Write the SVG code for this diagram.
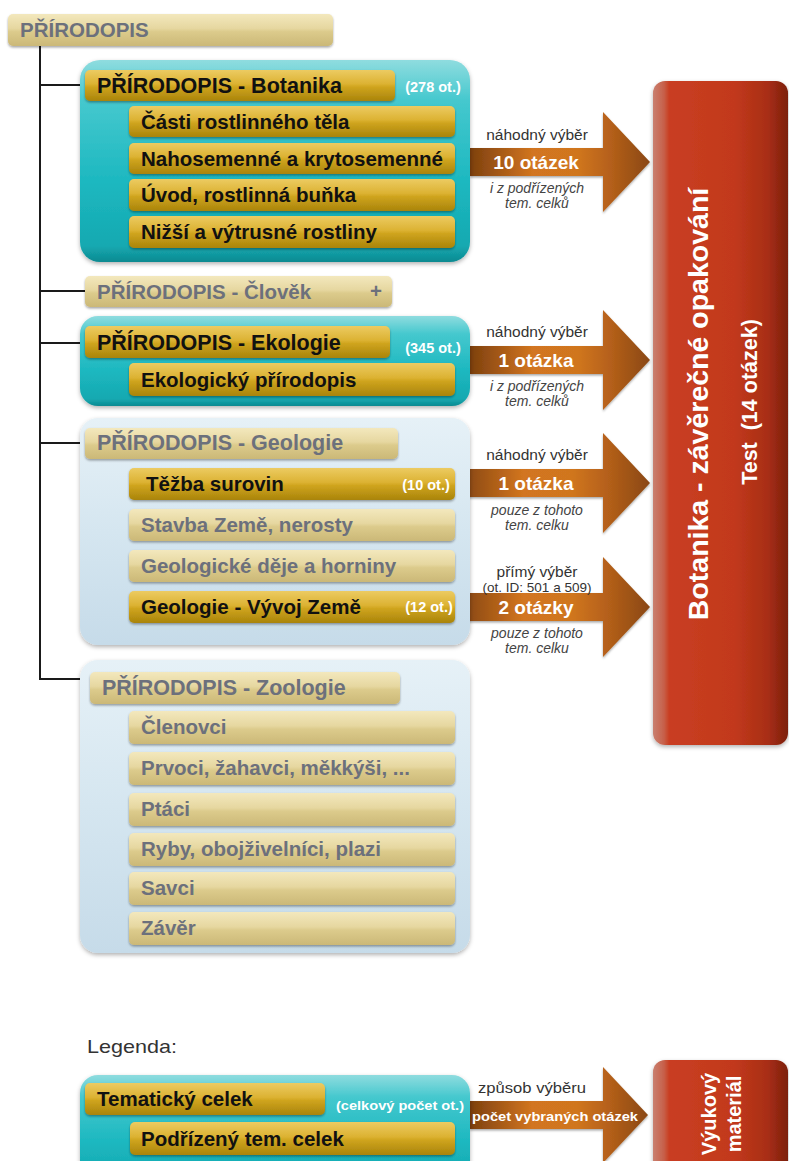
<svg xmlns="http://www.w3.org/2000/svg" width="789" height="1161" viewBox="0 0 789 1161">
<defs>
<linearGradient id="gold" x1="0" y1="0" x2="0" y2="1">
<stop offset="0" stop-color="#eccb62"/><stop offset="0.45" stop-color="#dcb232"/><stop offset="0.55" stop-color="#cfa41e"/><stop offset="1" stop-color="#a9840a"/>
</linearGradient>
<linearGradient id="pale" x1="0" y1="0" x2="0" y2="1">
<stop offset="0" stop-color="#f3e8bd"/><stop offset="0.45" stop-color="#e6d7a0"/><stop offset="0.55" stop-color="#dccb8c"/><stop offset="1" stop-color="#cbb877"/>
</linearGradient>
<linearGradient id="teal" x1="0" y1="0" x2="0" y2="1">
<stop offset="0" stop-color="#8fdcdf"/><stop offset="0.2" stop-color="#45c8ce"/><stop offset="0.6" stop-color="#1db8c0"/><stop offset="0.92" stop-color="#15a9b1"/><stop offset="1" stop-color="#0d8a91"/>
</linearGradient>
<linearGradient id="blue" x1="0" y1="0" x2="0" y2="1">
<stop offset="0" stop-color="#e6f1f7"/><stop offset="0.5" stop-color="#d5e6f0"/><stop offset="1" stop-color="#c6dbe9"/>
</linearGradient>
<linearGradient id="red" x1="0" y1="0" x2="1" y2="0">
<stop offset="0" stop-color="#c98070"/><stop offset="0.08" stop-color="#c7604a"/><stop offset="0.12" stop-color="#c93e22"/><stop offset="0.6" stop-color="#c2391c"/><stop offset="0.85" stop-color="#a82e15"/><stop offset="1" stop-color="#7c1f0d"/>
</linearGradient>
<linearGradient id="arrow" x1="0" y1="0" x2="1" y2="0">
<stop offset="0" stop-color="#7d400e"/><stop offset="0.35" stop-color="#d27520"/><stop offset="0.6" stop-color="#d0761f"/><stop offset="0.78" stop-color="#b5601a"/><stop offset="1" stop-color="#8a4812"/>
</linearGradient>
<filter id="sh" x="-10%" y="-10%" width="120%" height="130%">
<feDropShadow dx="0" dy="2" stdDeviation="2" flood-color="#000" flood-opacity="0.3"/>
</filter>
<filter id="shs" x="-5%" y="-20%" width="110%" height="150%">
<feDropShadow dx="0" dy="1.5" stdDeviation="1.2" flood-color="#000" flood-opacity="0.35"/>
</filter>
<style>
.f{font-family:"Liberation Sans",Arial,sans-serif}
.bg{fill:url(#gold);filter:url(#shs)}
.bp{fill:url(#pale);filter:url(#shs)}
.ct{fill:url(#teal);filter:url(#sh)}
.cb{fill:url(#blue);filter:url(#sh)}
.tb{font-family:"Liberation Sans",Arial,sans-serif;font-weight:bold;font-size:20.5px;fill:#111}
.tg{font-family:"Liberation Sans",Arial,sans-serif;font-weight:bold;font-size:20.5px;fill:#6c707c}
.cnt{font-family:"Liberation Sans",Arial,sans-serif;font-weight:bold;font-size:14.5px;fill:#fff;text-anchor:middle}
.al{font-family:"Liberation Sans",Arial,sans-serif;font-size:15.5px;fill:#333;text-anchor:middle}
.an{font-family:"Liberation Sans",Arial,sans-serif;font-weight:bold;font-size:19px;fill:#fff;text-anchor:middle}
.ai{font-family:"Liberation Sans",Arial,sans-serif;font-style:italic;font-size:14px;fill:#444;text-anchor:middle}
.arr{fill:url(#arrow);filter:url(#shs)}
.tree{fill:none;stroke:#1a1a1a;stroke-width:2}
</style>
</defs>
<rect width="789" height="1161" fill="#ffffff"/>

<g id="connectors">
<path class="tree" d="M40 46 V679 H84 M40 85 H86 M40 291 H86 M40 343 H86 M40 443 H86"/>
<polygon class="arr" points="470,148 603,148 603,112 650,162 603,212 603,176 470,176"/>
<polygon class="arr" points="470,346 603,346 603,310 650,360 603,410 603,374 470,374"/>
<polygon class="arr" points="455,469 603,469 603,433 650,483 603,533 603,497 455,497"/>
<polygon class="arr" points="455,593 603,593 603,557 650,607 603,657 603,621 455,621"/>
<polygon class="arr" points="470,1101 603,1101 603,1067 648,1115 603,1163 603,1129 470,1129"/>
<g id="lbl1">
<text class="al" x="537" y="140">náhodný výběr</text>
<text class="an" x="536" y="169">10 otázek</text>
<text class="ai" x="537" y="193">i z podřízených</text>
<text class="ai" x="537" y="208">tem. celků</text>
</g>
<g id="lbl2">
<text class="al" x="537" y="337">náhodný výběr</text>
<text class="an" x="536" y="367">1 otázka</text>
<text class="ai" x="537" y="391">i z podřízených</text>
<text class="ai" x="537" y="406">tem. celků</text>
</g>
<g id="lbl3">
<text class="al" x="537" y="460">náhodný výběr</text>
<text class="an" x="536" y="490">1 otázka</text>
<text class="ai" x="537" y="515">pouze z tohoto</text>
<text class="ai" x="537" y="530">tem. celku</text>
</g>
<g id="lbl4">
<text class="al" x="537" y="577">přímý výběr</text>
<text class="al" x="537" y="592" style="font-size:13.5px">(ot. ID: 501 a 509)</text>
<text class="an" x="536" y="614">2 otázky</text>
<text class="ai" x="537" y="638">pouze z tohoto</text>
<text class="ai" x="537" y="653">tem. celku</text>
</g>
</g>

<g id="root">
<rect class="bp" x="8" y="14" width="325" height="32" rx="5"/>
<text class="tg" x="20" y="37">PŘÍRODOPIS</text>
</g>

<g id="botanika">
<rect class="ct" x="80" y="60" width="390" height="202" rx="20"/>
<rect class="bg" x="85" y="70" width="310" height="31" rx="5"/>
<text class="tb" x="97" y="93" style="font-size:21.5px">PŘÍRODOPIS - Botanika</text>
<text class="cnt" x="433" y="92">(278 ot.)</text>
<rect class="bg" x="129" y="106" width="326" height="31" rx="5"/>
<text class="tb" x="141" y="129">Části rostlinného těla</text>
<rect class="bg" x="129" y="143" width="326" height="31" rx="5"/>
<text class="tb" x="141" y="166">Nahosemenné a krytosemenné</text>
<rect class="bg" x="129" y="179" width="326" height="32" rx="5"/>
<text class="tb" x="141" y="202">Úvod, rostlinná buňka</text>
<rect class="bg" x="129" y="216" width="326" height="32" rx="5"/>
<text class="tb" x="141" y="239">Nižší a výtrusné rostliny</text>
</g>

<g id="clovek">
<rect class="bp" x="85" y="276" width="307" height="31" rx="5"/>
<text class="tg" x="97" y="299">PŘÍRODOPIS - Člověk</text>
<text class="tg" x="376" y="298" style="text-anchor:middle">+</text>
</g>

<g id="ekologie">
<rect class="ct" x="80" y="316" width="390" height="90" rx="18"/>
<rect class="bg" x="85" y="326" width="305" height="32" rx="5"/>
<text class="tb" x="97" y="350" style="font-size:21.5px">PŘÍRODOPIS - Ekologie</text>
<text class="cnt" x="433" y="353">(345 ot.)</text>
<rect class="bg" x="129" y="363" width="326" height="33" rx="5"/>
<text class="tb" x="141" y="387">Ekologický přírodopis</text>
</g>

<g id="geologie">
<rect class="cb" x="80" y="418" width="390" height="227" rx="18"/>
<rect class="bp" x="85" y="428" width="313" height="31" rx="5"/>
<text class="tg" x="97" y="450" style="font-size:21.5px">PŘÍRODOPIS - Geologie</text>
<rect class="bg" x="129" y="468" width="326" height="32" rx="5"/>
<text class="tb" x="146" y="491">Těžba surovin</text>
<text class="cnt" x="426" y="490">(10 ot.)</text>
<rect class="bp" x="129" y="509" width="326" height="32" rx="5"/>
<text class="tg" x="141" y="532">Stavba Země, nerosty</text>
<rect class="bp" x="129" y="550" width="326" height="32" rx="5"/>
<text class="tg" x="141" y="573">Geologické děje a horniny</text>
<rect class="bg" x="129" y="591" width="326" height="32" rx="5"/>
<text class="tb" x="141" y="614">Geologie - Vývoj Země</text>
<text class="cnt" x="429" y="612">(12 ot.)</text>
</g>

<g id="zoologie">
<rect class="cb" x="80" y="660" width="390" height="293" rx="18"/>
<rect class="bp" x="90" y="672" width="310" height="32" rx="5"/>
<text class="tg" x="102" y="695" style="font-size:21.5px">PŘÍRODOPIS - Zoologie</text>
<rect class="bp" x="129" y="711" width="326" height="33" rx="5"/>
<text class="tg" x="141" y="734">Členovci</text>
<rect class="bp" x="129" y="752" width="326" height="33" rx="5"/>
<text class="tg" x="141" y="775">Prvoci, žahavci, měkkýši, ...</text>
<rect class="bp" x="129" y="793" width="326" height="33" rx="5"/>
<text class="tg" x="141" y="816">Ptáci</text>
<rect class="bp" x="129" y="833" width="326" height="33" rx="5"/>
<text class="tg" x="141" y="856">Ryby, obojživelníci, plazi</text>
<rect class="bp" x="129" y="872" width="326" height="33" rx="5"/>
<text class="tg" x="141" y="895">Savci</text>
<rect class="bp" x="129" y="912" width="326" height="33" rx="5"/>
<text class="tg" x="141" y="935">Závěr</text>
</g>

<g id="test">
<rect x="653" y="81" width="135" height="664" rx="12" fill="url(#red)" filter="url(#sh)"/>
<text class="f" transform="translate(708,404) rotate(-90)" text-anchor="middle" font-weight="bold" font-size="28.5" fill="#fff">Botanika - závěrečné opakování</text>
<text class="f" transform="translate(757,402) rotate(-90)" text-anchor="middle" font-weight="bold" font-size="21.5" fill="#fff" xml:space="preserve">Test  (14 otázek)</text>
</g>

<g id="legenda">
<text class="f" x="87" y="1053" font-size="19" fill="#333" textLength="90" lengthAdjust="spacingAndGlyphs">Legenda:</text>
<rect class="ct" x="80" y="1075" width="390" height="110" rx="18"/>
<rect class="bg" x="85" y="1083" width="240" height="32" rx="5"/>
<text class="tb" x="97" y="1106">Tematický celek</text>
<text class="f" x="336" y="1110" font-weight="bold" font-size="13.5" fill="#fff" textLength="128" lengthAdjust="spacingAndGlyphs">(celkový počet ot.)</text>
<rect class="bg" x="130" y="1122" width="325" height="33" rx="5"/>
<text class="tb" x="141" y="1146">Podřízený tem. celek</text>
<text class="f" x="478" y="1093" font-size="15" fill="#333" textLength="108" lengthAdjust="spacingAndGlyphs">způsob výběru</text>
<text class="f" x="472" y="1121" font-weight="bold" font-size="13.5" fill="#fff" textLength="166" lengthAdjust="spacingAndGlyphs">počet vybraných otázek</text>
<rect x="653" y="1060" width="135" height="130" rx="12" fill="url(#red)" filter="url(#sh)"/>
<text class="f" transform="translate(716,1114) rotate(-90)" text-anchor="middle" font-weight="bold" font-size="20" fill="#fff">Výukový</text>
<text class="f" transform="translate(741,1114) rotate(-90)" text-anchor="middle" font-weight="bold" font-size="20" fill="#fff">materiál</text>
</g>
</svg>
